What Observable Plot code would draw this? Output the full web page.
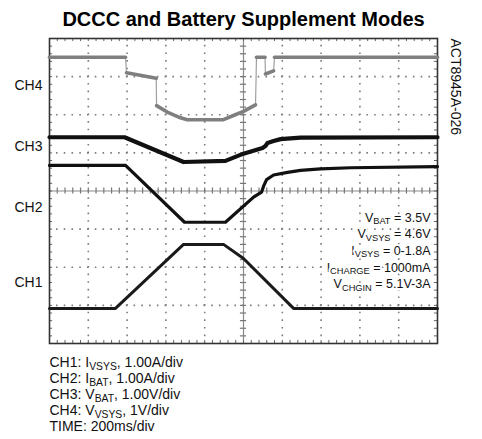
<!DOCTYPE html>
<html>
<head>
<meta charset="utf-8">
<script src="https://cdn.jsdelivr.net/npm/d3@7"></script>
<script src="https://cdn.jsdelivr.net/npm/@observablehq/plot@0.6"></script>
<style>
  html, body { margin: 0; padding: 0; background: #fff; overflow: hidden; }
  #chart svg { display: block; }
</style>
</head>
<body>
<div id="chart"></div>
<script>
// ---- text ----
const title = "DCCC and Battery Supplement Modes";
const figureId = "ACT8945A-026";
const chLabels = ["CH4", "CH3", "CH2", "CH1"];
const chLabelY = [6.77, 5.17, 3.57, 1.60];           // divisions
const notes = ["V_{BAT} = 3.5V", "V_{VSYS} = 4.6V", "I_{VSYS} = 0-1.8A", "I_{CHARGE} = 1000mA", "V_{CHGIN} = 5.1V-3A"];
const captions = ["CH1: I_{VSYS}, 1.00A/div", "CH2: I_{BAT}, 1.00A/div", "CH3: V_{BAT}, 1.00V/div", "CH4: V_{VSYS}, 1V/div", "TIME: 200ms/div"];

// ---- traces: time (ms, 200 ms/div) and screen position (divisions from bottom) ----
const ch4T = [0, 392, 397, 550, 552, 607, 675, 710, 897, 948, 1000, 1062, 1067, 1111, 1113, 1155, 1160, 2000];
const ch4V = [7.51, 7.51, 7.10, 6.96, 6.24, 6.07, 5.92, 5.87, 5.87, 5.98, 6.09, 6.26, 7.51, 7.51, 7.07, 7.15, 7.51, 7.51];

const ch3T = [0, 387, 691, 907, 1000, 1098, 1113, 1124, 1155, 1191, 1242, 1294, 2000];
const ch3V = [5.41, 5.41, 4.76, 4.79, 4.98, 5.13, 5.18, 5.26, 5.31, 5.36, 5.38, 5.40, 5.41];

const ch2T = [0, 392, 696, 907, 1052, 1093, 1103, 1119, 1155, 1227, 1294, 1397, 1552, 2000];
const ch2V = [4.67, 4.67, 3.18, 3.18, 3.84, 3.97, 4.12, 4.30, 4.42, 4.49, 4.54, 4.58, 4.61, 4.64];

const ch1T = [0, 340, 691, 897, 1000, 1258, 2000];
const ch1V = [0.92, 0.92, 2.60, 2.60, 2.23, 0.92, 0.92];

// ---- build ----
const rows = (T, V) => T.map((t, i) => ({t, v: V[i]}));
function splitJumps(pts) {
  const out = [], jumps = [];
  let seg = 0;
  out.push({...pts[0], seg});
  for (let i = 1; i < pts.length; i++) {
    const a = pts[i - 1], b = pts[i];
    if (b.t - a.t < 8 && Math.abs(b.v - a.v) > 0.3) {
      jumps.push({t1: a.t, v1: a.v, t2: b.t, v2: b.v});
      seg++;
    }
    out.push({...b, seg});
  }
  return {out, jumps};
}
const ch4 = splitJumps(rows(ch4T, ch4V));

const majorX = d3.range(200, 2000, 200).filter(d => d !== 1000);
const majorY = d3.range(1, 8).filter(d => d !== 4);
const minorX = d3.range(0, 2001, 40);
const minorY = d3.range(0, 8.001, 0.2);

const gridColor = "#7d7d7d";
const textMarks = [];
notes.forEach((s, i) => textMarks.push(Plot.text([s], {
  text: d => d, frameAnchor: "bottom-right", dx: -7, dy: -122 + i * 16.7,
  lineAnchor: "bottom", textAnchor: "end", fontSize: 12.5, fill: "#111",
  stroke: "#fff", strokeWidth: 4, paintOrder: "stroke"
})));
captions.forEach((s, i) => textMarks.push(Plot.text([s], {
  text: d => d, frameAnchor: "bottom-left", dx: 0, dy: 23.7 + i * 16,
  lineAnchor: "bottom", textAnchor: "start", fontSize: 14, fill: "#111"
})));

const plot = Plot.plot({
  width: 482,
  height: 439,
  marginTop: 38,
  marginRight: 45,
  marginBottom: 96,
  marginLeft: 49,
  x: {domain: [0, 2000], axis: null},
  y: {domain: [0, 8], axis: null},
  style: {fontFamily: "'Liberation Sans', Arial, sans-serif", background: "#fff", overflow: "visible"},
  marks: [
    // dotted graticule
    Plot.ruleY(majorY, {stroke: gridColor, strokeWidth: 1.6, strokeDasharray: "1.6 6.16", strokeDashoffset: 0.8}),
    Plot.ruleX(majorX, {stroke: gridColor, strokeWidth: 1.6, strokeDasharray: "1.6 6.025", strokeDashoffset: 0.8}),
    // centre axes with ticks
    Plot.ruleX([1000], {stroke: "#8a8a8a", strokeWidth: 1.2}),
    Plot.ruleY([4], {stroke: "#8a8a8a", strokeWidth: 1.2}),
    Plot.ruleY(minorY, {x1: 1000 - 16, x2: 1000 + 16, stroke: "#777", strokeWidth: 1.2}),
    Plot.ruleX(minorX, {y1: 4 - 0.08, y2: 4 + 0.08, stroke: "#777", strokeWidth: 1.2}),
    // frame ticks
    Plot.ruleX(minorX, {y1: 8, y2: 7.92, stroke: "#666", strokeWidth: 1}),
    Plot.ruleX(minorX, {y1: 0, y2: 0.08, stroke: "#666", strokeWidth: 1}),
    Plot.ruleY(minorY, {x1: 0, x2: 16, stroke: "#666", strokeWidth: 1}),
    Plot.ruleY(minorY, {x1: 2000, x2: 1984, stroke: "#666", strokeWidth: 1}),
    Plot.frame({stroke: "#333", strokeWidth: 1.6}),
    // annotations sit on the graticule, behind the traces
    ...textMarks,
    // traces
    Plot.link(ch4.jumps, {x1: "t1", y1: "v1", x2: "t2", y2: "v2", stroke: "#a0a0a0", strokeWidth: 1.2}),
    Plot.line(ch4.out, {x: "t", y: "v", z: "seg", stroke: "#7f7f7f", strokeWidth: 3.6}),
    Plot.line(rows(ch3T, ch3V), {x: "t", y: "v", stroke: "#111", strokeWidth: 4.2}),
    Plot.line(rows(ch2T, ch2V), {x: "t", y: "v", stroke: "#111", strokeWidth: 3.2}),
    Plot.line(rows(ch1T, ch1V), {x: "t", y: "v", stroke: "#1a1a1a", strokeWidth: 3}),
    // labels
    Plot.text(chLabels, {text: d => d, y: chLabelY, frameAnchor: "left", dx: -7, textAnchor: "end", fontSize: 14, fill: "#111"}),
    Plot.text([title], {text: d => d, frameAnchor: "top", dy: -13, lineAnchor: "bottom", fontSize: 20, fontWeight: "bold", fill: "#000"}),
    Plot.text([figureId], {text: d => d, frameAnchor: "top-right", dx: 23, rotate: 90, textAnchor: "start", fontSize: 14, fill: "#111"})
  ]
});

// subscripts: turn "_{...}" into smaller, lowered tspans
const NS = "http://www.w3.org/2000/svg";
const SHIFT = 2.5;
plot.querySelectorAll("text").forEach(el => {
  const s = el.textContent;
  if (!s.includes("_{")) return;
  el.textContent = "";
  const re = /_\{([^}]*)\}/g;
  let last = 0, m, shifted = false;
  const add = (txt, sub) => {
    const t = document.createElementNS(NS, "tspan");
    if (sub) { t.setAttribute("font-size", "74%"); t.setAttribute("dy", SHIFT); shifted = true; }
    else if (shifted) { t.setAttribute("dy", -SHIFT); shifted = false; }
    t.textContent = txt;
    el.appendChild(t);
  };
  while ((m = re.exec(s))) {
    if (m.index > last) add(s.slice(last, m.index), false);
    add(m[1], true);
    last = re.lastIndex;
  }
  if (last < s.length) add(s.slice(last), false);
});

document.getElementById("chart").appendChild(plot);
</script>
</body>
</html>
